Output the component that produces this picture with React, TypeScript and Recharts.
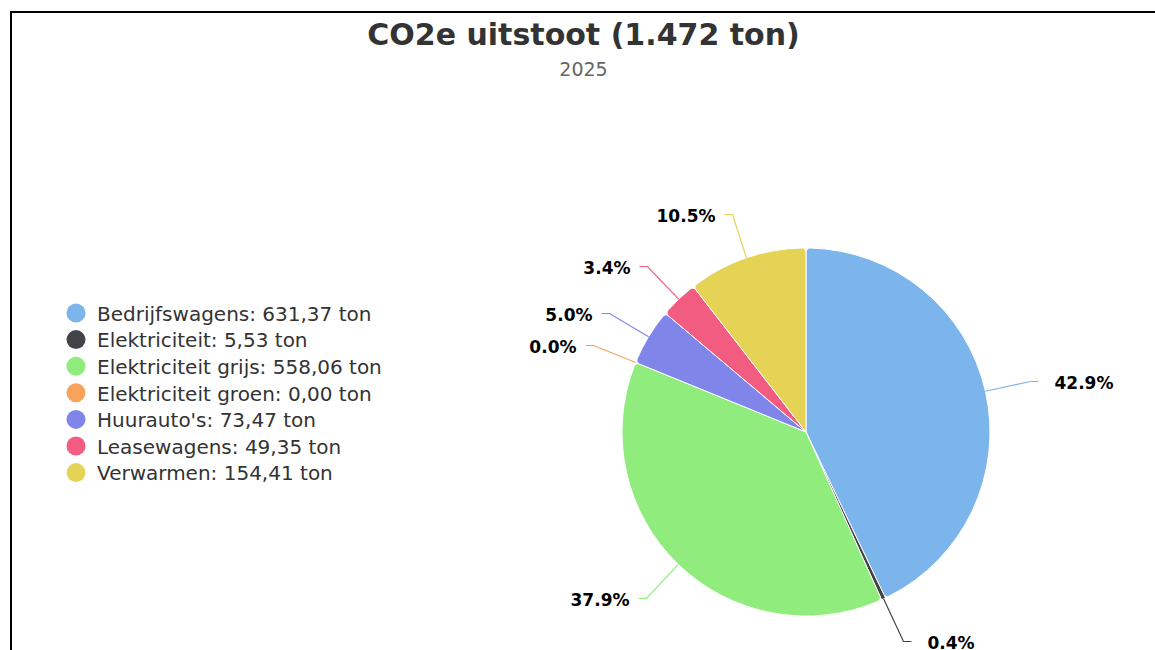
import { PieChart, Pie, Cell, Legend } from "recharts"

// CO2e per source, 2025 (ton)
const categories = [
  "Bedrijfswagens",
  "Elektriciteit",
  "Elektriciteit grijs",
  "Elektriciteit groen",
  "Huurauto's",
  "Leasewagens",
  "Verwarmen",
]
const tons = [631.37, 5.53, 558.06, 0.0, 73.47, 49.35, 154.41]
const colors = ["#7cb5ec", "#434348", "#90ed7d", "#f7a35c", "#8085e9", "#f15c80", "#e4d354"]

const pieData = categories.map((name, i) => ({ name, value: tons[i] }))

const FONT = "'DejaVu Sans', sans-serif"
const RADIAN = Math.PI / 180

const fmtTon = (v: number) => v.toFixed(2).replace(".", ",")

// label with an elbow connector, like the original data labels
function SliceLabel(props: any) {
  const { cx, cy, midAngle, outerRadius, percent, index } = props
  const cos = Math.cos(-midAngle * RADIAN)
  const sin = Math.sin(-midAngle * RADIAN)
  const sx = cx + outerRadius * cos
  const sy = cy + outerRadius * sin
  const mx = Math.round(cx + (outerRadius + 46) * cos) + 0.5
  const my = Math.round(cy + (outerRadius + 46) * sin) + 0.5
  const right = cos >= 0
  const ex = mx + (right ? 8 : -8)
  const tx = mx + (right ? 24 : -17)
  return (
    <g>
      <polyline
        points={`${sx},${sy} ${mx},${my} ${ex},${my}`}
        fill="none"
        stroke={colors[index]}
        strokeWidth={1.2}
      />
      <text
        x={tx}
        y={my + 7}
        textAnchor={right ? "start" : "end"}
        fontFamily={FONT}
        fontSize={17}
        fontWeight="bold"
        fill="#000000"
      >
        {`${(percent * 100).toFixed(1)}%`}
      </text>
    </g>
  )
}

function LegendBox() {
  return (
    <svg width={340} height={195}>
      {categories.map((name, i) => (
        <g key={name}>
          <circle cx={16} cy={18 + i * 26.6} r={9.5} fill={colors[i]} />
          <text x={37} y={25.8 + i * 26.6} fontFamily={FONT} fontSize={20} fill="#333333">
            {`${name}: ${fmtTon(tons[i])} ton`}
          </text>
        </g>
      ))}
    </svg>
  )
}

export default function App() {
  return (
    <div
      style={{
        position: "absolute",
        left: 10,
        top: 11,
        width: 1145,
        height: 639,
        boxSizing: "border-box",
        borderTop: "2px solid #000",
        borderLeft: "2px solid #000",
        background: "#fff",
        overflow: "hidden",
      }}
    >
      <PieChart width={1143} height={637} margin={{ top: 0, right: 0, bottom: 0, left: 0 }}>
        <text
          x={571.5}
          y={32}
          textAnchor="middle"
          fontFamily={FONT}
          fontSize={30}
          fontWeight="bold"
          fill="#333333"
        >
          CO2e uitstoot (1.472 ton)
        </text>
        <text x={571.5} y={63} textAnchor="middle" fontFamily={FONT} fontSize={19} fill="#666666">
          2025
        </text>
        <Legend
          layout="vertical"
          align="center"
          verticalAlign="middle"
          content={() => <LegendBox />}
          wrapperStyle={{ left: 48, top: 282, width: 340, height: 195 }}
        />
        <Pie
          data={pieData}
          dataKey="value"
          nameKey="name"
          cx={794}
          cy={419}
          outerRadius={184}
          startAngle={90}
          endAngle={-270}
          cornerRadius={4}
          stroke="#ffffff"
          strokeWidth={1}
          label={SliceLabel}
          labelLine={false}
          isAnimationActive={false}
        >
          {pieData.map((d, i) => (
            <Cell key={d.name} fill={colors[i]} />
          ))}
        </Pie>
      </PieChart>
    </div>
  )
}
